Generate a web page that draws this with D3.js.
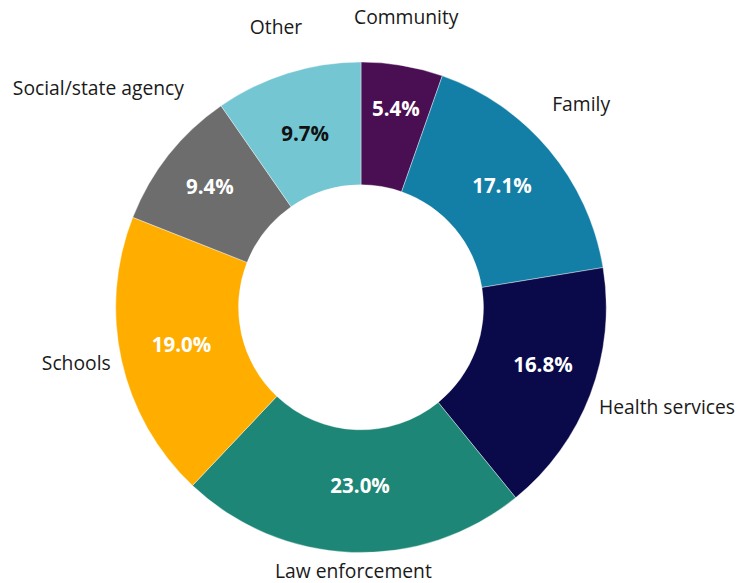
<!DOCTYPE html>
<html>
<head>
<meta charset="utf-8">
<script src="https://cdn.jsdelivr.net/npm/d3@7"></script>
<style>
  html, body { margin: 0; padding: 0; background: #fff; }
  svg { display: block; font-family: "Open Sans", sans-serif; }
</style>
</head>
<body>
<svg id="chart" width="751" height="583"></svg>
<script>
const categories = ["Community", "Family", "Health services", "Law enforcement", "Schools", "Social/state agency", "Other"];
const values = [5.4, 17.1, 16.8, 23.0, 19.0, 9.4, 9.7];
const valueLabels = ["5.4%", "17.1%", "16.8%", "23.0%", "19.0%", "9.4%", "9.7%"];
const colors = ["#4A0F52", "#137FA7", "#0A0A4A", "#1D8677", "#FFAE00", "#6D6D6D", "#74C6D3"];
const valueTextColors = ["#fff", "#fff", "#fff", "#fff", "#fff", "#fff", "#111"];

// label nudges (layout only)
const labelNudge = [[-7, -25], [0, -31], [1, 4], [5, -6], [1, -3], [7, -53], [0, -24]];
const valueNudge = [[4, -18], [0, -4], [10, -9], [6, -6], [0, -3], [-7, -7], [-1, 1]];

const svg = d3.select("#chart");
const cx = 361, cy = 307.3, R = 245.3, r = 122.5;
const g = svg.append("g").attr("transform", `translate(${cx},${cy})`);

const data = categories.map((c, i) => ({ name: c, value: values[i], i }));
const pie = d3.pie().value(d => d.value).sort(null).startAngle(0).endAngle(2 * Math.PI);
const arcs = pie(data);
const arc = d3.arc().innerRadius(r).outerRadius(R);
const midArc = d3.arc().innerRadius((R + r) / 2).outerRadius((R + r) / 2);

g.selectAll("path.slice").data(arcs).enter().append("path")
  .attr("class", "slice")
  .attr("d", arc)
  .attr("fill", d => colors[d.data.i])
  .attr("stroke", "#fff")
  .attr("stroke-width", 0.4);

// value labels
g.selectAll("text.val").data(arcs).enter().append("text")
  .attr("class", "val")
  .attr("x", d => midArc.centroid(d)[0] + valueNudge[d.data.i][0])
  .attr("y", d => midArc.centroid(d)[1] + valueNudge[d.data.i][1])
  .attr("text-anchor", "middle")
  .attr("dominant-baseline", "central")
  .attr("font-weight", "bold")
  .attr("font-size", "20.5px")
  .attr("fill", d => valueTextColors[d.data.i])
  .text(d => valueLabels[d.data.i]);

// category labels
const Ra = R + 13;
g.selectAll("text.cat").data(arcs).enter().append("text")
  .attr("class", "cat")
  .attr("text-anchor", "middle")
  .attr("dominant-baseline", "central")
  .attr("font-size", "19.3px")
  .attr("fill", "#1a1a1a")
  .text(d => d.data.name)
  .each(function (d) {
    const a = (d.startAngle + d.endAngle) / 2;
    const s = Math.sin(a), c = Math.cos(a);
    const w = this.getComputedTextLength();
    const px = Ra * s, py = -Ra * c;
    const x = px + s * w / 2 + labelNudge[d.data.i][0];
    const y = py - c * 11 + labelNudge[d.data.i][1];
    d3.select(this).attr("x", x).attr("y", y);
  });
</script>
</body>
</html>
